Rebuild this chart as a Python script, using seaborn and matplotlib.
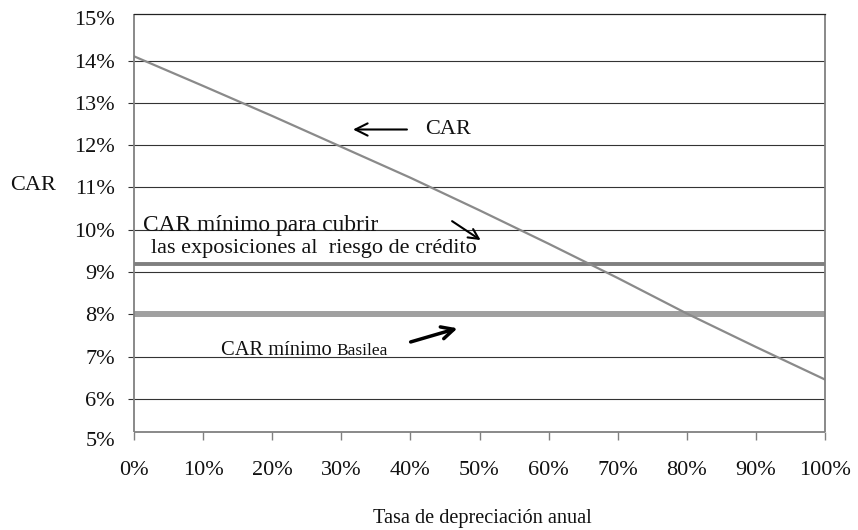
import matplotlib
matplotlib.use("Agg")
import matplotlib.pyplot as plt
import seaborn as sns
import pandas as pd

# ---- data ----
depreciation = [0, 10, 20, 30, 40, 50, 60, 70, 80, 90, 100]
car = [14.10, 13.40, 12.69, 11.96, 11.23, 10.46, 9.67, 8.86, 8.02, 7.23, 6.46]
car_min_credit = 9.2
car_min_basel = 8.0
y_ticks = [6, 7, 8, 9, 10, 11, 12, 13, 14, 15]
x_ticks = [0, 10, 20, 30, 40, 50, 60, 70, 80, 90, 100]

df = pd.DataFrame({"dep": depreciation, "car": car})
df_credit = pd.DataFrame({"dep": [depreciation[0], depreciation[-1]],
                          "car": [car_min_credit, car_min_credit]})
df_basel = pd.DataFrame({"dep": [depreciation[0], depreciation[-1]],
                         "car": [car_min_basel, car_min_basel]})

sns.set_theme(style="white")
plt.rcParams["font.family"] = ["Liberation Serif", "DejaVu Serif"]

FS = 16
fig = plt.figure(figsize=(8.58, 5.3), dpi=100)
ax = fig.add_axes([134 / 858, 1 - 432 / 530, (825 - 134) / 858, (432 - 14) / 530])

sns.lineplot(data=df_basel, x="dep", y="car", ax=ax, color="#a0a0a0", lw=4.3)
sns.lineplot(data=df_credit, x="dep", y="car", ax=ax, color="#7f7f7f", lw=2.8)
sns.lineplot(data=df, x="dep", y="car", ax=ax, color="#8a8a8a", lw=1.6)

ax.set_xlim(0, 100)
ax.set_ylim(5.22, 15.1)
ax.set_yticks(y_ticks)
ax.set_yticklabels([f"{v}%" for v in y_ticks])
ax.set_xticks(x_ticks)
ax.set_xticklabels([f"{v}%" for v in x_ticks])
ax.set_xlabel("")
ax.set_ylabel("")

ax.set_axisbelow(True)
ax.yaxis.grid(True, color="#333333", lw=0.8)
ax.xaxis.grid(False)

for side in ["left", "right", "bottom"]:
    ax.spines[side].set_color("#808080")
    ax.spines[side].set_linewidth(1.3)
    ax.spines[side].set_capstyle("butt")
ax.spines["top"].set_color("#222222")
ax.spines["top"].set_linewidth(0.9)

ax.tick_params(axis="y", direction="out", length=4.3, width=0.8, color="#333333",
               pad=9.4, labelsize=FS, left=True, right=False)
ax.tick_params(axis="x", direction="out", length=5.8, width=1.0, color="#808080",
               pad=15, labelsize=FS, bottom=True, top=False)
for lab in ax.get_xticklabels() + ax.get_yticklabels():
    lab.set_color("#111111")

# the 15% level coincides with the chart's top border: no extra line or tick
ax.yaxis.get_gridlines()[-1].set_visible(False)
ax.yaxis.get_major_ticks()[-1].tick1line.set_visible(False)

# lowest y label sits below the drawn axis
ax.annotate("5%", xy=(0, 5.0), xycoords=("axes fraction", "data"),
            xytext=(-(4.3 + 9.4), 0), textcoords="offset points",
            ha="right", va="center", fontsize=FS, color="#111111",
            annotation_clip=False)

fig.text(33 / 858, 1 - 186 / 530, "CAR", ha="center", va="center", fontsize=FS,
         color="#111111")
fig.text(482 / 858, 1 - 518 / 530, "Tasa de depreciación anual", ha="center",
         va="center", fontsize=14.6, color="#111111")

# annotations
ax.annotate("", xy=(31.3, 12.37), xytext=(39.9, 12.37),
            arrowprops=dict(arrowstyle="->", color="black", lw=1.5,
                            mutation_scale=22))
ax.text(42.1, 12.37, "CAR", ha="left", va="center", fontsize=FS, color="#111111")

ax.text(1.3, 10.11, "CAR mínimo para cubrir", ha="left", va="center",
        fontsize=16.8, color="#111111")
ax.text(2.4, 9.56, "las exposiciones al  riesgo de crédito", ha="left",
        va="center", fontsize=16, color="#111111")
ax.annotate("", xy=(50.5, 9.72), xytext=(45.7, 10.24),
            arrowprops=dict(arrowstyle="->", color="black", lw=1.5,
                            mutation_scale=18))

# "CAR mínimo" (larger) + "Basilea" (smaller) on a shared baseline
t1 = ax.text(12.6, 7.05, "CAR mínimo ", ha="left", va="baseline", fontsize=14.8,
             color="#111111")
fig.canvas.draw()
bb = t1.get_window_extent(renderer=fig.canvas.get_renderer())
x_end = ax.transData.inverted().transform((bb.x1, bb.y0))[0]
ax.text(x_end, 7.05, "Basilea", ha="left", va="baseline", fontsize=12.5,
        color="#111111")
ax.annotate("", xy=(47.2, 7.69), xytext=(39.65, 7.33),
            arrowprops=dict(arrowstyle="->", color="black", lw=2.5,
                            mutation_scale=22))

fig.savefig("out.png", dpi=100)
